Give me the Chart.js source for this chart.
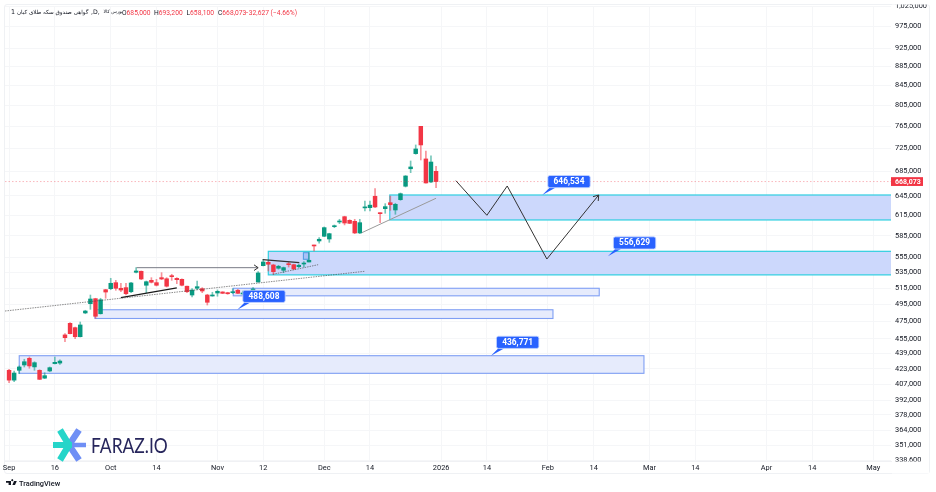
<!DOCTYPE html>
<html>
<head>
<meta charset="utf-8">
<title>گواهی صندوق سکه طلای کیان</title>
<script src="https://cdn.jsdelivr.net/npm/chart.js@4"></script>
<style>
  html, body { margin: 0; padding: 0; background: #fff; }
  #wrap { position: relative; width: 936px; height: 492px; overflow: hidden; font-family: Roboto, "Liberation Sans", sans-serif; }
  #frame { position: absolute; left: 4px; top: 4px; width: 926px; height: 470px; border: 1px solid #eff1f4; border-radius: 3px; box-sizing: border-box; }
  canvas { position: absolute; left: 0; top: 0; }
  .t { position: absolute; white-space: nowrap; }
  .fa { font-family: "DejaVu Sans", sans-serif; font-size: 5.6px; color: #131722; top: 8.5px; }
  .ohlc { font-size: 6.7px; top: 8.5px; color: #f23645; }
  .ohlc b { font-weight: 400; color: #131722; }
  #brand { font-family: Lato, "Open Sans", sans-serif; font-size: 20.5px; color: #27265c; left: 90.5px; top: 433px; transform: scaleX(0.85); transform-origin: left center; }
  #tv { font-size: 7.4px; font-weight: 500; color: #131722; left: 19px; top: 478.5px; }
  svg { position: absolute; left: 0; top: 0; }
</style>
</head>
<body>
<div id="wrap">
  <div id="frame"></div>
  <canvas id="chart" width="936" height="492"></canvas>
  <span class="t fa" style="left:11px;font-size:6.4px;top:8px">1</span>
  <span class="t fa" style="left:17px" dir="rtl">گواهی صندوق سکه طلای کیان</span>
  <span class="t fa" style="left:91px;font-size:6.2px;top:8px">,D,</span>
  <span class="t fa" style="left:103.5px;font-size:4.6px;top:9px" dir="rtl">بورس کالا</span>
  <span class="t ohlc" style="left:122px"><b>O</b>685,000</span>
  <span class="t ohlc" style="left:154px"><b>H</b>693,200</span>
  <span class="t ohlc" style="left:186.5px"><b>L</b>658,100</span>
  <span class="t ohlc" style="left:218px"><b>C</b>668,073</span>
  <span class="t ohlc" style="left:245px">−32,627 (−4.66%)</span>
  <svg width="936" height="492" viewBox="0 0 936 492">
    <g fill="none" stroke-linecap="butt">
      <path d="M69 445L79 430M69 445L79 460" stroke="#6f8ff5" stroke-width="6.5"/>
      <path d="M69 445H86" stroke="#6f8ff5" stroke-width="4.5"/>
      <path d="M69 445L60 430M69 445L60 460" stroke="#25d5c9" stroke-width="6.5"/>
      <path d="M53 445H72" stroke="#25d5c9" stroke-width="6"/>
    </g>
    <path d="M6 481h5v4h-2.4v-2.2H6zM12.2 481.3a1 1 0 1 1 .1 0zM14 481h2.8l-1.8 4h-2.6z" fill="#131722"/>
  </svg>
  <span class="t" id="brand">FARAZ.IO</span>
  <span class="t" id="tv">TradingView</span>
</div>
<script>
// Candles, one per trading day
const opens = [
  421500, 411500, 421500, 427000, 434000, 425000, 421500, 413500, 420800, 428400,
  429000, 459500, 472700, 467700, 457500, 484800, 495900, 502000, 483900, 513100,
  514400, 522000, 514900, 515700, 510600, 535400, 536700, 518700, 525000, 522000,
  528400, 527000, 531000, 527500, 526300, 517500, 506500, 514900, 514400, 506500,
  505300, 509000, 510300, 509400, 509400, 512400, 507800, 509400, 511500, 522900,
  544100, 548600, 545000, 540700, 538000, 546000, 545400, 542800, 546300, 549000,
  572000, 577900, 584600, 580700, 598400, 605300, 613200, 607800, 606300, 589300,
  626500, 626800, 644500, 618800, 625300, 634500, 623300, 639200, 660500, 689300,
  715200, 764500, 706000, 667400, 685000
];
const highs = [
  422500, 420800, 426000, 433000, 435400, 430400, 422000, 419000, 424900, 435400,
  432500, 460900, 473500, 468500, 474200, 488000, 506500, 502500, 502500, 513600,
  527600, 525000, 521200, 521200, 522500, 541500, 537100, 524100, 528400, 526300,
  534900, 528400, 532800, 528400, 527000, 517800, 514400, 524100, 515700, 507400,
  509900, 512800, 510600, 509900, 514400, 513600, 511500, 510000, 515700, 536200,
  552600, 550300, 546000, 544600, 542300, 549400, 546000, 546000, 549400, 561600,
  572300, 582600, 598000, 588900, 600900, 609300, 613900, 608700, 609300, 609300,
  637100, 637100, 656600, 619000, 633000, 644800, 633600, 649700, 677900, 702500,
  730500, 764500, 719800, 711200, 693200
];
const lows = [
  409000, 409900, 418000, 424900, 423600, 421500, 412000, 413000, 420000, 428000,
  427600, 452000, 460500, 455300, 457200, 483900, 489100, 478500, 483500, 502500,
  513100, 512400, 510600, 506500, 509400, 534500, 525800, 509400, 521600, 517800,
  525800, 516500, 525000, 520700, 517800, 509400, 504100, 513100, 509400, 494300,
  505000, 505000, 508200, 507400, 508200, 508200, 506500, 507500, 511500, 522500,
  543700, 537100, 532800, 539500, 534900, 542300, 538800, 541500, 542300, 549000,
  563900, 574700, 584000, 576000, 597000, 602800, 601000, 602800, 588300, 588300,
  621800, 621800, 626800, 604300, 618300, 622800, 616800, 638200, 659300, 682700,
  714100, 704200, 665300, 666300, 658100
];
const closes = [
  411500, 418700, 424900, 430400, 426000, 429400, 412300, 416000, 424200, 429800,
  431100, 456400, 460900, 457500, 470800, 487100, 501600, 480900, 500700, 510200,
  521200, 514900, 512700, 508100, 521600, 537100, 526700, 523200, 522500, 518700,
  526700, 517500, 529700, 525800, 518700, 510600, 512700, 516900, 511500, 497600,
  506100, 511100, 508600, 508100, 510600, 508600, 508600, 508100, 514000, 534500,
  549000, 546000, 536200, 543300, 541500, 545400, 539700, 544600, 547300, 551300,
  570900, 580300, 597000, 588300, 599500, 606300, 603800, 603300, 589300, 604300,
  627500, 630700, 627900, 617700, 628400, 631500, 632000, 648600, 677200, 692300,
  723400, 730500, 665800, 700700, 668073
];
const lastClose = 668073;

// Axis ticks
const priceTicks = [
  338600, 351000, 364000, 378000, 392000, 407000, 423000, 439000, 455000, 475000,
  495000, 515000, 535000, 555000, 585000, 615000, 645000, 685000, 725000, 765000,
  805000, 845000, 885000, 925000, 975000, 1025000
];
const timeTickBars = [0, 9, 20, 29, 41, 50, 62, 71, 85, 94, 106, 115, 126, 135, 149, 158, 170];
const timeTickLabels = ['Sep', '16', 'Oct', '14', 'Nov', '12', 'Dec', '14', '2026', '14', 'Feb', '14', 'Mar', '14', 'Apr', '14', 'May'];

const barMin = -0.8, barMax = 173.5;
const priceMin = 337800, priceMax = 1025400;

// Zones on the chart, in bars and prices
const zoneStart = [2, 16.9, 44.1, 51, 74.9];
const zoneEnd = [124.9, 107, 116.1, barMax + 2, barMax + 2];
const zoneTop = [436771, 488608, 514900, 563500, 646534];
const zoneBottom = [418400, 478300, 505500, 532000, 608300];

// Price callouts
const calloutBars = [104.9, 117.8, 44.9, 94.8];
const calloutPrices = [646534, 556629, 488608, 436771];

// Trend lines and the projected path
const pathBars = [87.9, 94, 98, 105.8, 116];
const pathPrices = [669500, 615300, 660900, 553000, 646500];
const longTrendBars = [-0.8, 70];
const longTrendPrices = [487100, 536700];
const shortTrendBars = [51.9, 60.8];
const shortTrendPrices = [532800, 545400];
const riseTrendBars = [69.4, 84];
const riseTrendPrices = [589700, 641400];
const blackTrendBars = [22, 33];
const blackTrendPrices = [503200, 515300];
const topTrendBars = [49.9, 57.1];
const topTrendPrices = [552100, 548100];
const arrowBars = [25.1, 49];
const arrowPrices = [541450, 541450];
const smallBoxBars = [57.9, 58.96];
const smallBoxPrices = [561600, 552650];

const UP = '#089981';
const DOWN = '#f23645';
const WICK_UP = 'rgba(8,153,129,0.55)';
const WICK_DOWN = 'rgba(242,54,69,0.55)';
const GRID = '#f5f6f8';
const TEXT = '#131722';

function line(bars, prices, color, width, dash) {
  return {
    type: 'line',
    data: bars.map((b, i) => ({ x: b, y: prices[i] })),
    borderColor: color,
    borderWidth: width,
    borderDash: dash || [],
    pointRadius: 0,
    tension: 0,
    order: 1
  };
}

function arrowHead(ctx, x0, y0, x1, y1, size) {
  const a = Math.atan2(y1 - y0, x1 - x0);
  ctx.beginPath();
  ctx.moveTo(x1 - size * Math.cos(a - 0.6), y1 - size * Math.sin(a - 0.6));
  ctx.lineTo(x1, y1);
  ctx.lineTo(x1 - size * Math.cos(a + 0.6), y1 - size * Math.sin(a + 0.6));
  ctx.stroke();
}

// Zones sit under the candles
const zonesPlugin = {
  id: 'zones',
  beforeDatasetsDraw(chart) {
    const { ctx, chartArea, scales: { x, y } } = chart;
    ctx.save();
    ctx.beginPath();
    ctx.rect(chartArea.left, chartArea.top, chartArea.width, chartArea.height);
    ctx.clip();
    zoneStart.forEach((start, i) => {
      const left = x.getPixelForValue(start);
      const right = x.getPixelForValue(zoneEnd[i]);
      const top = y.getPixelForValue(zoneTop[i]);
      const bottom = y.getPixelForValue(zoneBottom[i]);
      const strong = i >= 3;
      ctx.fillStyle = strong ? '#ccd8fc' : '#e6ebfc';
      ctx.fillRect(left, top, right - left, bottom - top);
      ctx.strokeStyle = strong ? '#2fcfe0' : '#7f9ff4';
      ctx.lineWidth = strong ? 1.2 : 1.1;
      ctx.strokeRect(left, top, right - left, bottom - top);
    });
    const l = x.getPixelForValue(smallBoxBars[0]);
    const r = x.getPixelForValue(smallBoxBars[1]);
    const t = y.getPixelForValue(smallBoxPrices[0]);
    const b = y.getPixelForValue(smallBoxPrices[1]);
    ctx.fillStyle = '#a9c1f7';
    ctx.fillRect(l, t, r - l, b - t);
    ctx.strokeStyle = '#4a9be0';
    ctx.lineWidth = 1;
    ctx.strokeRect(l, t, r - l, b - t);
    ctx.restore();
  }
};

// Callouts, arrow heads, last price tag and the clipped ends of the price axis
const labelsPlugin = {
  id: 'labels',
  afterDraw(chart) {
    const { ctx, scales: { x, y } } = chart;
    ctx.save();

    ctx.strokeStyle = '#333';
    ctx.lineWidth = 1;
    const n = pathBars.length - 1;
    arrowHead(ctx,
      x.getPixelForValue(pathBars[n - 1]), y.getPixelForValue(pathPrices[n - 1]),
      x.getPixelForValue(pathBars[n]), y.getPixelForValue(pathPrices[n]), 6);
    arrowHead(ctx,
      x.getPixelForValue(arrowBars[0]), y.getPixelForValue(arrowPrices[0]),
      x.getPixelForValue(arrowBars[1]), y.getPixelForValue(arrowPrices[1]), 5);

    calloutBars.forEach((bar, i) => {
      const tipX = x.getPixelForValue(bar);
      const tipY = y.getPixelForValue(calloutPrices[i]);
      const left = tipX + 5.5, top = tipY - 19.5;
      ctx.fillStyle = '#2962ff';
      ctx.beginPath();
      ctx.moveTo(tipX, tipY);
      ctx.lineTo(left + 2, top + 12);
      ctx.lineTo(left + 8, top + 12);
      ctx.closePath();
      ctx.fill();
      ctx.strokeStyle = '#c9d8ff';
      ctx.lineWidth = 0.8;
      ctx.beginPath();
      ctx.roundRect(left, top, 42.4, 12.2, 2);
      ctx.fill();
      ctx.stroke();
      ctx.fillStyle = '#fff';
      ctx.font = 'bold 8.4px Roboto, sans-serif';
      ctx.textAlign = 'center';
      ctx.textBaseline = 'middle';
      ctx.fillText(calloutPrices[i].toLocaleString('en-US'), left + 21.2, top + 6.4);
    });

    const py = y.getPixelForValue(lastClose);
    ctx.fillStyle = DOWN;
    ctx.fillRect(891, py - 4.4, 32, 8.8);
    ctx.fillStyle = '#fff';
    ctx.font = 'bold 7px Roboto, sans-serif';
    ctx.textAlign = 'left';
    ctx.textBaseline = 'middle';
    ctx.fillText(lastClose.toLocaleString('en-US'), 895, py + 0.3);

    // the first and last price labels are cut off by the pane edges
    ctx.fillStyle = '#fff';
    ctx.fillRect(892, 0, 37, 4.5);
    ctx.fillRect(892, 461.5, 37, 12);
    ctx.restore();
  }
};

new Chart(document.getElementById('chart'), {
  type: 'bar',
  data: {
    datasets: [
      {
        data: opens.map((o, i) => ({ x: i, y: [lows[i], highs[i]] })),
        backgroundColor: closes.map((c, i) => (c >= opens[i] ? WICK_UP : WICK_DOWN)),
        barThickness: 1,
        grouped: false,
        order: 3
      },
      {
        data: opens.map((o, i) => ({ x: i, y: [o, closes[i]] })),
        backgroundColor: closes.map((c, i) => (c >= opens[i] ? UP : DOWN)),
        barThickness: 3.8,
        minBarLength: 1,
        grouped: false,
        order: 2
      },
      line([barMin, barMax], [lastClose, lastClose], 'rgba(242,54,69,0.45)', 0.8, [1.5, 2]),
      line(longTrendBars, longTrendPrices, 'rgba(70,70,70,0.7)', 0.9, [1.5, 1]),
      line(shortTrendBars, shortTrendPrices, 'rgba(70,70,70,0.7)', 0.9, [1.5, 1]),
      line(riseTrendBars, riseTrendPrices, '#9a9a9a', 1),
      line(blackTrendBars, blackTrendPrices, '#1a1a1a', 1.2),
      line(topTrendBars, topTrendPrices, '#333', 1.2),
      line(arrowBars, arrowPrices, '#787b86', 1),
      line(pathBars, pathPrices, '#333', 1)
    ]
  },
  options: {
    responsive: false,
    animation: false,
    layout: { padding: { left: 5, top: 6, right: 0, bottom: 0 } },
    plugins: {
      legend: { display: false },
      tooltip: { enabled: false }
    },
    scales: {
      x: {
        type: 'linear',
        offset: false,
        min: barMin,
        max: barMax,
        afterBuildTicks(scale) {
          scale.ticks = timeTickBars.map(v => ({ value: v }));
        },
        afterFit(scale) {
          scale.height = 31;
          scale.paddingLeft = 0;
          scale.paddingRight = 0;
        },
        grid: { color: GRID, offset: false, drawTicks: false },
        border: { display: true, color: '#f0f1f4' },
        ticks: {
          autoSkip: false,
          maxRotation: 0,
          padding: 3,
          color: TEXT,
          font: { family: 'Roboto, sans-serif', size: 7.4 },
          callback: v => timeTickLabels[timeTickBars.indexOf(v)]
        }
      },
      y: {
        type: 'logarithmic',
        position: 'right',
        min: priceMin,
        max: priceMax,
        bounds: 'data',
        afterBuildTicks(scale) {
          scale.ticks = priceTicks.map(v => ({ value: v }));
        },
        afterFit(scale) {
          scale.width = 45;
          scale.paddingTop = 0;
          scale.paddingBottom = 0;
        },
        grid: { color: GRID, drawTicks: false },
        border: { display: false },
        ticks: {
          autoSkip: false,
          padding: 4,
          color: TEXT,
          font: { family: 'Roboto, sans-serif', size: 7.4 },
          callback: v => v.toLocaleString('en-US')
        }
      }
    }
  },
  plugins: [zonesPlugin, labelsPlugin]
});
</script>
</body>
</html>
